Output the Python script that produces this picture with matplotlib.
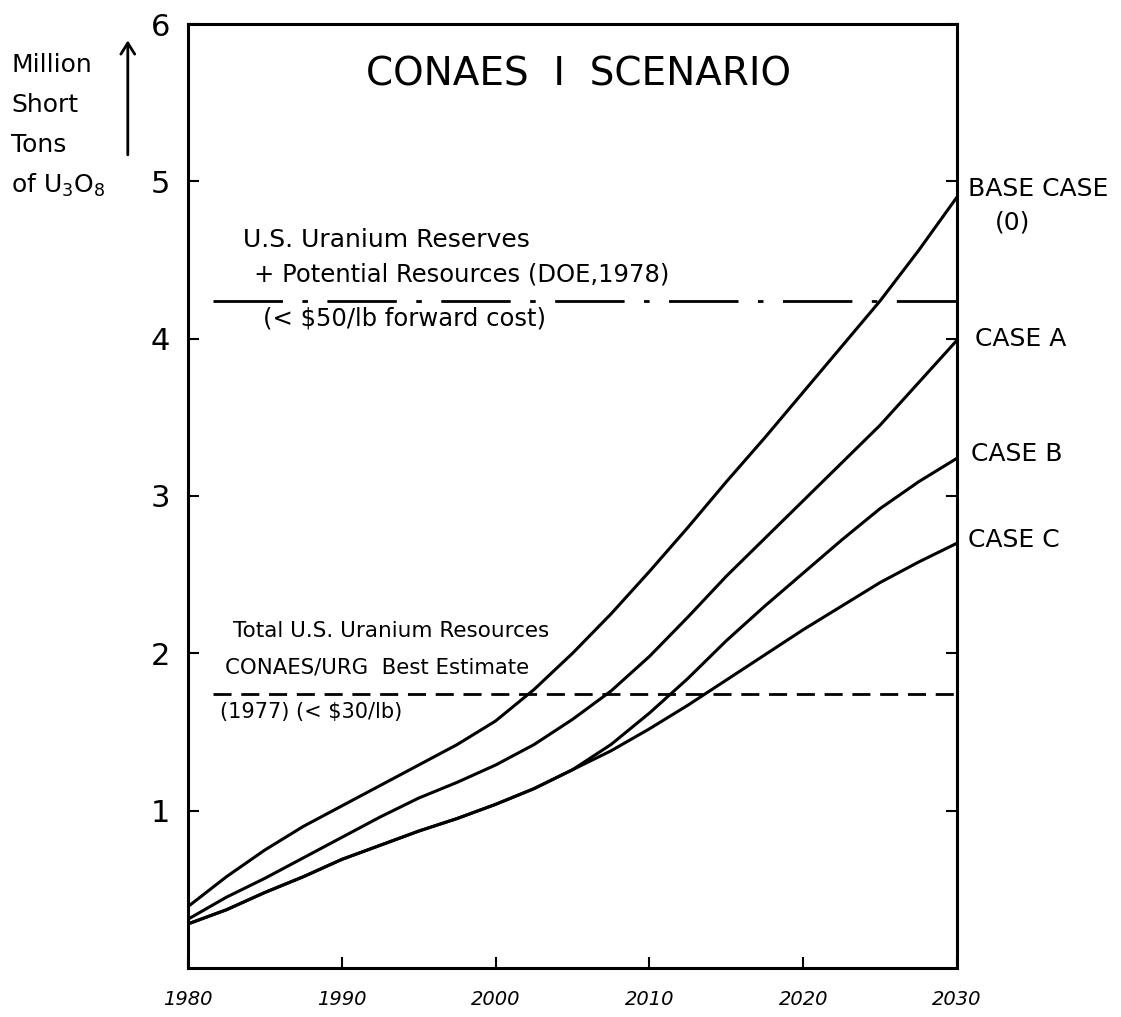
import matplotlib
matplotlib.use("Agg")
import matplotlib.pyplot as plt

# ---- data ----
years = [1980, 1982.5, 1985, 1987.5, 1990, 1992.5, 1995, 1997.5, 2000, 2002.5,
         2005, 2007.5, 2010, 2012.5, 2015, 2017.5, 2020, 2022.5, 2025, 2027.5, 2030]
base_case = [0.39, 0.58, 0.75, 0.90, 1.03, 1.16, 1.29, 1.42, 1.57, 1.77,
             2.00, 2.25, 2.52, 2.80, 3.09, 3.37, 3.66, 3.95, 4.24, 4.56, 4.90]
case_a = [0.31, 0.45, 0.57, 0.70, 0.83, 0.96, 1.08, 1.18, 1.29, 1.42,
          1.58, 1.76, 1.98, 2.23, 2.49, 2.73, 2.97, 3.21, 3.45, 3.72, 3.99]
case_b = [0.28, 0.37, 0.48, 0.58, 0.69, 0.78, 0.87, 0.95, 1.04, 1.14,
          1.26, 1.42, 1.62, 1.84, 2.08, 2.30, 2.51, 2.72, 2.92, 3.09, 3.24]
case_c = [0.28, 0.37, 0.48, 0.58, 0.69, 0.78, 0.87, 0.95, 1.04, 1.14,
          1.26, 1.38, 1.52, 1.67, 1.83, 1.99, 2.15, 2.30, 2.45, 2.58, 2.70]
series_labels = ["BASE CASE", "CASE A", "CASE B", "CASE C"]

reserves_level = 4.24       # DOE 1978 reserves + potential resources
best_estimate_level = 1.74  # CONAES/URG best estimate
ref_line_start = 1981.6

x_ticks = [1980, 1990, 2000, 2010, 2020, 2030]
x_tick_labels = ["1980", "1990", "2000", "2010", "2020", "2030"]
y_ticks = [1, 2, 3, 4, 5, 6]
y_tick_labels = ["1", "2", "3", "4", "5", "6"]

# ---- figure ----
plt.rcParams['font.family'] = ['DejaVu Sans']
fig = plt.figure(figsize=(11.21, 10.17), dpi=100)
ax = fig.add_axes([0.1677, 0.0482, 0.686, 0.9282])
ax.set_xlim(1980, 2030)
ax.set_ylim(0, 6)

lw = 2.2
for s in [base_case, case_a, case_b, case_c]:
    ax.plot(years, s, color="black", lw=lw, solid_capstyle="round",
            solid_joinstyle="round")

l1, = ax.plot([ref_line_start, 2030], [reserves_level, reserves_level],
              color="black", lw=2.0)
l1.set_dashes((25, 7, 2, 7))
l2, = ax.plot([ref_line_start, 2030], [best_estimate_level, best_estimate_level],
              color="black", lw=2.0)
l2.set_dashes((6.5, 3.5))

for sp in ax.spines.values():
    sp.set_linewidth(2.2)

ax.set_xticks(x_ticks)
ax.set_xticklabels(x_tick_labels, fontsize=14, style="italic")
ax.set_yticks(y_ticks)
ax.set_yticklabels(y_tick_labels, fontsize=22)
ax.tick_params(axis="x", direction="in", length=8, width=1.5, pad=16)
ax.tick_params(axis="y", direction="in", length=8, width=1.5, pad=13,
               right=True)

# title
ax.text(2005.4, 5.68, "CONAES  I  SCENARIO", fontsize=28, ha="center", va="center")

# reference-line annotations
ax.text(1983.6, 4.63, "U.S. Uranium Reserves", fontsize=18, ha="left", va="center")
ax.text(1984.3, 4.41, "+ Potential Resources (DOE,1978)", fontsize=17.5, ha="left", va="center")
ax.text(1984.9, 4.13, "(< $50/lb forward cost)", fontsize=17.5, ha="left", va="center")

ax.text(1982.9, 2.14, "Total U.S. Uranium Resources", fontsize=15.5, ha="left", va="center")
ax.text(1982.4, 1.91, "CONAES/URG  Best Estimate", fontsize=15.3, ha="left", va="center")
ax.text(1982.1, 1.63, "(1977) (< $30/lb)", fontsize=15, ha="left", va="center")

# series labels at right end
label_pos = [(2030.7, 4.95), (2031.2, 4.0), (2030.9, 3.27), (2030.7, 2.72)]
for (lx, ly), txt in zip(label_pos, series_labels):
    ax.text(lx, ly, txt, fontsize=18, ha="left", va="center", clip_on=False)
ax.text(2033.6, 4.74, "(0)", fontsize=18, ha="center", va="center", clip_on=False)

# y-axis label and arrow (outside the axes)
fig.text(0.010, 0.936, "Million", fontsize=18, ha="left", va="center")
fig.text(0.010, 0.897, "Short", fontsize=18, ha="left", va="center")
fig.text(0.010, 0.857, "Tons", fontsize=18, ha="left", va="center")
fig.text(0.010, 0.818, "of U$_3$O$_8$", fontsize=18, ha="left", va="center")
fig.patches.append(matplotlib.patches.FancyArrowPatch(
    (0.114, 0.845), (0.114, 0.963), transform=fig.transFigure,
    arrowstyle="->,head_length=8,head_width=5", lw=2, color="black"))

fig.savefig("out.png", dpi=100)
